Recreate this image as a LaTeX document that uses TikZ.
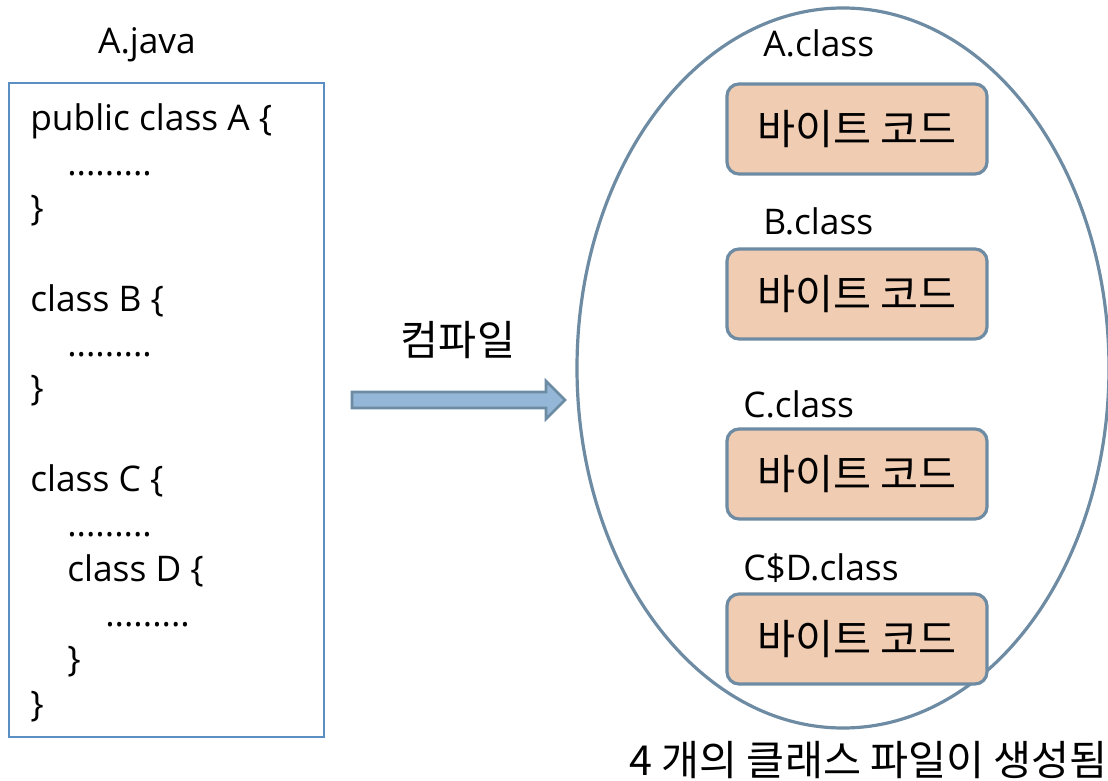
\documentclass[tikz,border=0pt]{standalone}
\usepackage{fontspec}
\setmainfont{Open Sans}
\newfontfamily\kr{Noto Sans CJK KR}
\usetikzlibrary{positioning,shapes.geometric}
\definecolor{codeframe}{HTML}{5B8FC4}
\definecolor{slate}{HTML}{6D8BA3}
\definecolor{bytefill}{HTML}{F0CCB2}
\definecolor{arrowfill}{HTML}{95B7D7}
\tikzset{
  txt/.style={font=\fontsize{26.5}{31}\selectfont, inner sep=0pt, text=black},
  krtxt/.style={font=\kr\fontsize{31}{36}\selectfont, inner sep=0pt, text=black},
  code/.style={txt, anchor=base west},
  bytebox/.style={draw=slate, line width=2.4pt, fill=bytefill, rounded corners=9pt,
    minimum width=195pt, minimum height=67.5pt, krtxt},
  classlabel/.style={txt, anchor=base west},
}
\begin{document}
\begin{tikzpicture}[x=0.75pt, y=-0.75pt]
\useasboundingbox (0,0) rectangle (1108,781);

% source file frame
\node[draw=codeframe, line width=1.4pt, minimum width=236.25pt, minimum height=490.5pt,
  inner sep=0pt] (src) at (166.5,410) {};
\node[txt] (srcname) at (147,45) {A.java};

% source listing, one line every 45px
\node[code] (l1)  at (30,131)  {public class A \{};
\node[code] (l2)  at (67,176)  {.........};
\node[code] (l3)  at (30,221)  {\}};
\node[code] (l5)  at (30,311)  {class B \{};
\node[code] (l6)  at (67,356)  {.........};
\node[code] (l7)  at (30,401)  {\}};
\node[code] (l9)  at (30,491)  {class C \{};
\node[code] (l10) at (67,536)  {.........};
\node[code] (l11) at (67,581)  {class D \{};
\node[code] (l12) at (105,626) {.........};
\node[code] (l13) at (67,671)  {\}};
\node[code] (l14) at (30,716)  {\}};

% compile arrow
\node[krtxt] (compile) at (458,340) {컴파일};
\draw[draw=slate, line width=2pt, fill=arrowfill]
  (352,392) -- (546,392) -- (546,381) -- (565,400) -- (546,419) -- (546,408) -- (352,408) -- cycle;

% generated class files
\node[draw=slate, line width=2.4pt, ellipse, minimum width=399pt, minimum height=540pt,
  inner sep=0pt] (out) at (843,368) {};

\node[bytebox] (ba) at (857,129) {바이트 코드};
\node[bytebox] (bb) at (857,294) {바이트 코드};
\node[bytebox] (bc) at (857,474) {바이트 코드};
\node[bytebox] (bd) at (857,639) {바이트 코드};

\node[classlabel] (na) at (763,57)  {A.class};
\node[classlabel] (nb) at (763,235) {B.class};
\node[classlabel] (nc) at (743,417) {C.class};
\node[classlabel] (nd) at (743,580) {C\$D.class};

\node[krtxt, anchor=base east] (summary) at (1108,775) {4 개의 클래스 파일이 생성됨};
\end{tikzpicture}
\end{document}
